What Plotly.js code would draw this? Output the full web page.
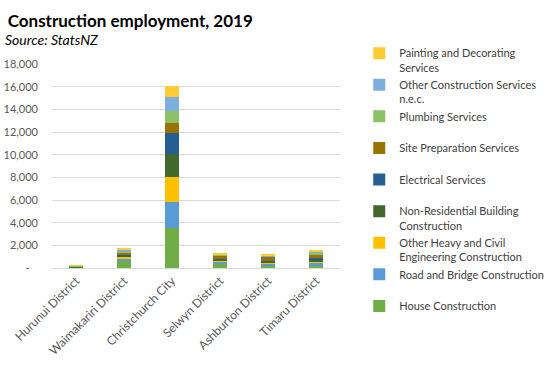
<!DOCTYPE html>
<html>
<head>
<meta charset="utf-8">
<script src="https://cdn.plot.ly/plotly-3.0.1.min.js"></script>
<style>html,body{margin:0;padding:0;background:#fff;}#chart{width:551px;height:368px;}</style>
</head>
<body>
<div id="chart"></div>
<script>
var districts = ["Hurunui District", "Waimakariri District", "Christchurch City", "Selwyn District", "Ashburton District", "Timaru District"];

var houseConstruction      = [60, 590, 3550, 384, 207, 207];
var roadBridge             = [10, 177, 2300, 148, 148, 295];
var otherHeavyCivil        = [10, 207, 2210, 89, 89, 89];
var nonResidential         = [20, 90, 1980, 89, 89, 89];
var electricalServices     = [20, 90, 1890, 89, 89, 207];
var sitePreparation        = [50, 200, 885, 266, 354, 325];
var plumbingServices       = [15, 60, 1060, 89, 30, 148];
var otherConstruction      = [10, 176, 1180, 59, 89, 59];
var paintingDecorating     = [15, 88, 1030, 89, 89, 89];

var seriesNames = [
  "House Construction<br> ",
  "Road and Bridge Construction<br> ",
  "Other Heavy and Civil<br>Engineering Construction",
  "Non-Residential Building<br>Construction",
  "Electrical Services<br> ",
  "Site Preparation Services<br> ",
  "Plumbing Services<br> ",
  "Other Construction Services<br>n.e.c.",
  "Painting and Decorating<br>Services"
];
var seriesValues = [houseConstruction, roadBridge, otherHeavyCivil, nonResidential, electricalServices, sitePreparation, plumbingServices, otherConstruction, paintingDecorating];
var seriesColors = ["#70AD47", "#5B9BD5", "#FFC000", "#43682B", "#255E91", "#997300", "#8CC168", "#7CAFDD", "#FFCD33"];

var yTickVals = [0, 2000, 4000, 6000, 8000, 10000, 12000, 14000, 16000, 18000];
var yTickText = ["-\u00a0\u00a0\u00a0", "2,000", "4,000", "6,000", "8,000", "10,000", "12,000", "14,000", "16,000", "18,000"];

var traces = seriesNames.map(function(n, i) {
  return {
    type: "bar",
    name: n,
    x: districts,
    y: seriesValues[i],
    marker: {color: seriesColors[i], line: {width: 0}},
    hoverinfo: "x+y+name"
  };
});

var fontFam = "Lato, 'Open Sans', sans-serif";
var layout = {
  width: 551, height: 368,
  barmode: "stack",
  bargap: 0.69,
  margin: {l: 52, r: 211, t: 64, b: 100, pad: 0},
  paper_bgcolor: "#ffffff",
  plot_bgcolor: "#ffffff",
  font: {family: fontFam, size: 11, color: "#595959"},
  title: {
    text: "<b>Construction employment, 2019</b>",
    font: {family: fontFam, size: 17, color: "#000000"},
    x: 0.014, xanchor: "left", xref: "container",
    y: 0.943, yanchor: "middle", yref: "container"
  },
  annotations: [{
    text: "<i>Source: StatsNZ</i>",
    xref: "paper", yref: "paper",
    x: -0.17, xanchor: "left",
    y: 1.118, yanchor: "middle",
    showarrow: false,
    font: {family: fontFam, size: 14, color: "#000000"}
  }],
  xaxis: {
    type: "category",
    tickangle: -45,
    tickfont: {family: fontFam, size: 12, color: "#595959"},
    showgrid: false,
    showline: true,
    linecolor: "#D9D9D9",
    linewidth: 1,
    ticks: "",
    fixedrange: true
  },
  yaxis: {
    range: [0, 18000],
    tickvals: yTickVals,
    ticktext: yTickText,
    tickfont: {family: fontFam, size: 11, color: "#595959"},
    showgrid: true,
    gridcolor: "#D9D9D9",
    gridwidth: 1,
    zeroline: false,
    showline: false,
    ticks: "",
    ticklabelstandoff: 13,
    fixedrange: true
  },
  legend: {
    xref: "container",
    x: 0.652, xanchor: "left",
    y: 1.12, yanchor: "top",
    traceorder: "reversed",
    valign: "top",
    font: {family: fontFam, size: 11, color: "#404040"},
    bgcolor: "rgba(0,0,0,0)",
    itemwidth: 30,
    tracegroupgap: 0,
    maxheight: 340
  },
  showlegend: true
};

Plotly.newPlot("chart", traces, layout, {displayModeBar: false, staticPlot: false});
</script>
</body>
</html>
